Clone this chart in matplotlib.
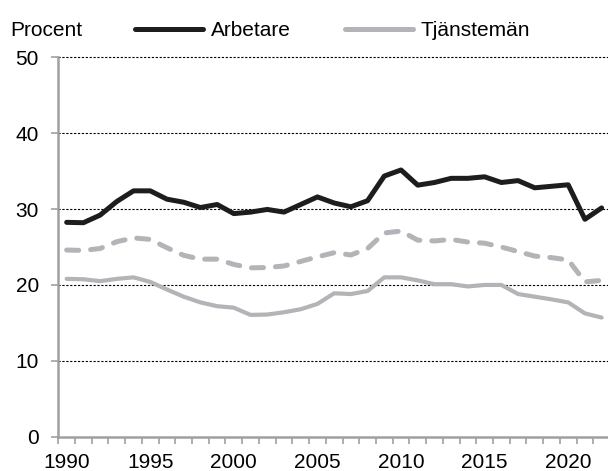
import matplotlib
matplotlib.use("Agg")
import matplotlib.pyplot as plt
from matplotlib.ticker import FixedLocator, NullFormatter

plt.rcParams['font.family'] = ['Liberation Sans', 'DejaVu Sans']
plt.rcParams['font.size'] = 15

years = list(range(1990, 2023))

# andel i procent per år
arbetare = [28.25, 28.2, 29.2, 31.0, 32.4, 32.4, 31.3, 30.9, 30.2, 30.6, 29.4,
            29.6, 29.95, 29.6, 30.6, 31.6, 30.8, 30.3, 31.1, 34.35, 35.15,
            33.15, 33.5, 34.05, 34.05, 34.25, 33.5, 33.75, 32.8, 33.0, 33.2,
            28.65, 30.15]
tjansteman = [20.8, 20.75, 20.5, 20.8, 21.0, 20.4, 19.4, 18.45, 17.7, 17.2, 17.0,
              16.05, 16.1, 16.4, 16.8, 17.5, 18.9, 18.8, 19.2, 21.0, 21.0,
              20.6, 20.1, 20.1, 19.8, 20.0, 20.0, 18.8, 18.45, 18.1, 17.7,
              16.25, 15.7]
samtliga = [24.6, 24.55, 24.8, 25.7, 26.2, 26.0, 24.9, 23.9, 23.4, 23.4, 22.7,
            22.25, 22.3, 22.5, 23.1, 23.7, 24.25, 23.95, 24.8, 26.85, 27.1,
            25.9, 25.8, 26.0, 25.65, 25.5, 25.0, 24.4, 23.8, 23.6, 23.3,
            20.4, 20.6]

year_labels = [1990, 1995, 2000, 2005, 2010, 2015, 2020]
y_ticks = [0, 10, 20, 30, 40, 50]

black = '#1d1d1b'
grey = '#b3b4b7'
axis_grey = '#a0a0a0'

fig = plt.figure(figsize=(6.08, 4.71), dpi=100)
ax = fig.add_axes([58.3 / 608, 34.3 / 471, 551.7 / 608, 379.4 / 471])

ax.plot(years, samtliga, color=grey, lw=3.6, dashes=(2.4, 2.4),
        dash_capstyle='round', zorder=3)
l_tj, = ax.plot(years, tjansteman, color=grey, lw=3.0, solid_joinstyle='round',
                solid_capstyle='round', zorder=3, label='Tjänstemän')
l_arb, = ax.plot(years, arbetare, color=black, lw=3.6, solid_joinstyle='round',
                 solid_capstyle='round', zorder=4, label='Arbetare')

ax.set_xlim(1989.5, 2022.5)
ax.set_ylim(0, 50)

for y in y_ticks[1:]:
    ax.axhline(y, color='black', lw=0.8, ls=(0, (2, 1.5)), zorder=1, clip_on=False)

# årtal mitt i kategorin, streck mellan kategorierna
ax.set_xticks(year_labels)
ax.set_xticklabels([str(y) for y in year_labels])
ax.xaxis.set_minor_locator(FixedLocator([y - 0.5 for y in years] + [2022.5]))
ax.xaxis.set_minor_formatter(NullFormatter())
ax.tick_params(axis='x', which='major', length=0, pad=11.5)
ax.tick_params(axis='x', which='minor', length=5, width=1.2, color=axis_grey)
ax.set_yticks(y_ticks)
ax.tick_params(axis='y', length=5, width=1.2, color=axis_grey, pad=9)

for side in ['top', 'right']:
    ax.spines[side].set_visible(False)
for side in ['left', 'bottom']:
    ax.spines[side].set_color(axis_grey)
    ax.spines[side].set_linewidth(1.8)

fig.text(10.5 / 608, 1 - 31 / 471, 'Procent', ha='left', va='center')

fig.legend(handles=[l_arb, l_tj], loc='center left',
           bbox_to_anchor=(134.5 / 608, 1 - 31 / 471), ncol=2, frameon=False,
           borderpad=0, borderaxespad=0, handlelength=3.3, handletextpad=0.35,
           columnspacing=2.6)
for line in fig.legends[0].get_lines():
    line.set_linewidth(3.6)
    line.set_solid_capstyle('round')

fig.savefig('out.png', dpi=100)
